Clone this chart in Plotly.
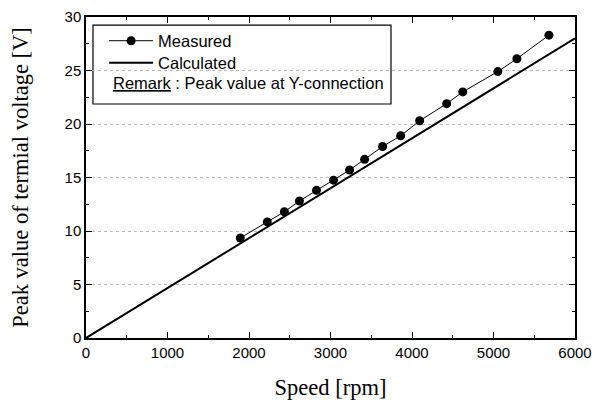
import plotly.graph_objects as go

# Data
measured_speed = [1893, 2225, 2434, 2619, 2828, 3037, 3234, 3418, 3639, 3861,
                  4094, 4426, 4623, 5053, 5287, 5680]
measured_volt = [9.35, 10.85, 11.8, 12.8, 13.8, 14.75, 15.7, 16.7, 17.9, 18.9,
                 20.3, 21.9, 23.0, 24.9, 26.1, 28.3]
calc_speed = [0, 6000]
calc_volt = [0, 28.0]

x_ticks = [0, 1000, 2000, 3000, 4000, 5000, 6000]
y_ticks = [0, 5, 10, 15, 20, 25, 30]

SANS = "Liberation Sans, Arial, sans-serif"
SERIF = "Liberation Serif, Times New Roman, serif"

fig = go.Figure()
fig.add_trace(go.Scatter(
    x=measured_speed, y=measured_volt, mode="lines+markers", name="Measured",
    line=dict(color="black", width=1),
    marker=dict(color="black", size=9),
    legend="legend",
))
fig.add_trace(go.Scatter(
    x=calc_speed, y=calc_volt, mode="lines", name="Calculated",
    line=dict(color="black", width=2),
    legend="legend2",
))

axis_common = dict(
    showline=True, linecolor="black", linewidth=1.5, mirror="ticks",
    ticks="inside", tickcolor="black", ticklen=6, tickwidth=1,
    tickfont=dict(family=SANS, size=15, color="black"),
    zeroline=False, automargin=False,
)

fig.update_xaxes(
    range=[0, 6000], tickvals=x_ticks, showgrid=False,
    minor=dict(dtick=500, tick0=0, ticks="inside", ticklen=3, tickcolor="black", showgrid=False),
    title=dict(text="Speed [rpm]", font=dict(family=SERIF, size=22.5, color="black"), standoff=19),
    **axis_common,
)
fig.update_yaxes(
    range=[0, 30], tickvals=y_ticks, showgrid=True, gridcolor="#b8b8b8",
    griddash="dot", gridwidth=1,
    minor=dict(dtick=2.5, tick0=0, ticks="inside", ticklen=3, tickcolor="black", showgrid=False),
    title=dict(text="Peak value of termial voltage [V]", font=dict(family=SERIF, size=22.5, color="black"), standoff=30),
    **axis_common,
)

# legend frame and remark
fig.add_shape(type="rect", xref="paper", yref="paper",
              x0=0.0143, x1=0.6237, y0=0.729, y1=0.975,
              line=dict(color="black", width=1.2), fillcolor="white", layer="below")
fig.add_annotation(
    xref="paper", yref="paper", x=0.051, y=(338 - 83) / 321,
    xanchor="left", yanchor="middle", showarrow=False,
    text="<u>Remark</u> : Peak value at Y-connection",
    font=dict(family=SANS, size=16.5, color="black"),
)

leg_common = dict(
    x=0.037, xanchor="left", yanchor="middle",
    bgcolor="rgba(0,0,0,0)", borderwidth=0,
    font=dict(family=SANS, size=16.5, color="black"),
    itemwidth=44,
)

fig.update_layout(
    width=604, height=402,
    margin=dict(l=86, r=29, t=17, b=64),
    paper_bgcolor="white", plot_bgcolor="white",
    showlegend=True,
    legend=dict(y=(338 - 41) / 321, **leg_common),
    legend2=dict(y=(338 - 63) / 321, **leg_common),
)

fig.write_html("out.html")
